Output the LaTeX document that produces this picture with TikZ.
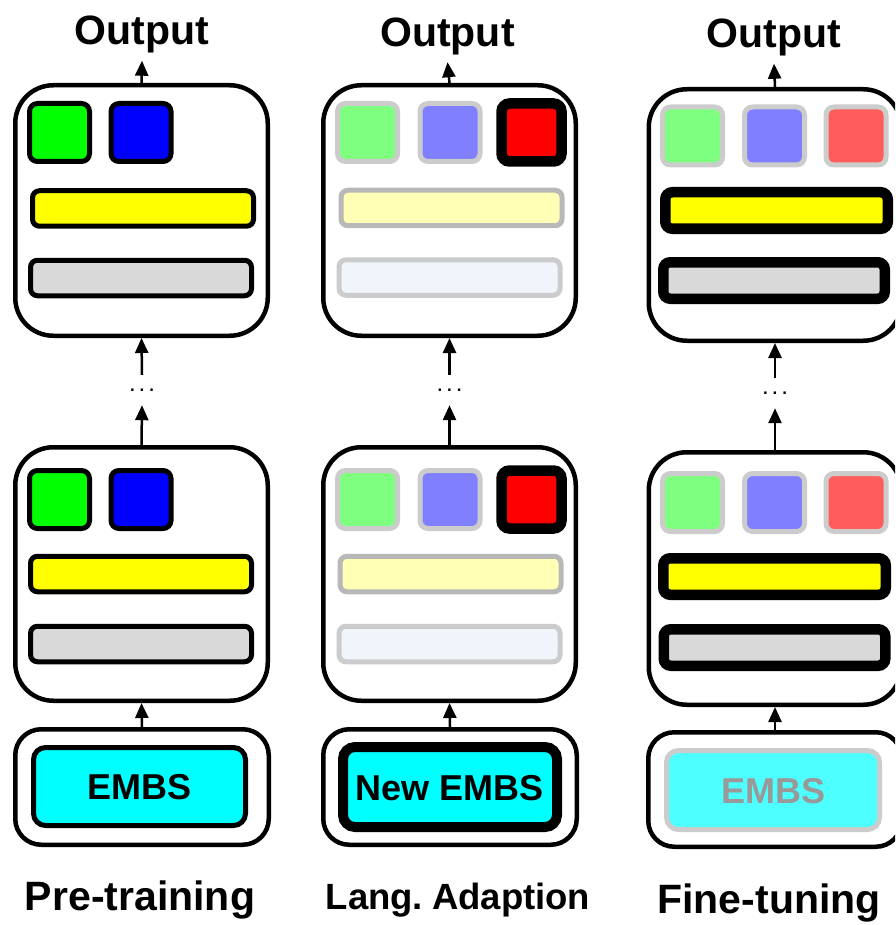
\documentclass[tikz,border=0pt]{standalone}
\usepackage{fontspec}
\setmainfont{Liberation Sans}
\usetikzlibrary{arrows.meta}

\definecolor{cgreen}{HTML}{00FF00}
\definecolor{cblue}{HTML}{0000FF}
\definecolor{cred}{HTML}{FF0000}
\definecolor{cyellow}{HTML}{FFFF00}
\definecolor{cgray}{HTML}{D9D9D9}
\definecolor{ccyan}{HTML}{00FFFF}
\definecolor{fgreen}{HTML}{7FFF7F}
\definecolor{fblue}{HTML}{7F7FFF}
\definecolor{fred}{HTML}{FF5C5C}
\definecolor{fyellow}{HTML}{FFFFB5}
\definecolor{fgray}{HTML}{F0F5FC}
\definecolor{fcyan}{HTML}{4DFFFF}
\definecolor{fline}{HTML}{CCCCCC}
\definecolor{flinedark}{HTML}{B8B8B8}
\definecolor{ftext}{HTML}{999999}

\newcommand{\vdotsrow}{.\kern3pt.\kern3pt.}

\tikzset{
  layer/.style={draw, line width=4.5pt, rounded corners=38pt, fill=white, inner sep=0pt,
    minimum width=252.5pt},
  embbox/.style={draw, line width=4.5pt, rounded corners=26pt, fill=white, inner sep=0pt,
    minimum width=253.5pt, minimum height=115.5pt},
  embs/.style={draw, line width=5pt, rounded corners=12pt, fill=ccyan, inner sep=0pt,
    minimum width=212pt, minimum height=78pt, font=\bfseries\fontsize{36}{36}\selectfont,
    text height=26pt, text depth=0pt},
  sq/.style={draw, line width=5pt, rounded corners=8pt, inner sep=0pt,
    minimum width=60pt, minimum height=58pt},
  sqthick/.style={sq, line width=10.5pt},
  bar/.style={draw, line width=5pt, rounded corners=7pt, inner sep=0pt,
    minimum width=221pt, minimum height=35.5pt},
  barthick/.style={bar, line width=10.5pt},
  dim/.style={draw=fline},
  dots/.style={inner sep=0pt, minimum height=30pt, font=\fontsize{24}{24}\selectfont},
  outlabel/.style={anchor=base, inner xsep=0pt, inner ysep=7pt,
    font=\bfseries\fontsize{41}{41}\selectfont},
  caption/.style={anchor=base, inner sep=0pt},
  up/.style={-{Triangle[length=15pt,width=13pt]}, line width=2.5pt},
}

\begin{document}
\begin{tikzpicture}[x=1pt, y=-1pt]
\useasboundingbox (0,0) rectangle (895,925);
\clip (0,0) rectangle (895,925);

% ---------------- Pre-training ----------------
\node[layer, minimum height=250.5pt] (pt-top) at (141.5,210.5) {};
\node[sq, fill=cgreen] (pt-top-g) at (59.5,132.5) {};
\node[sq, fill=cblue]  (pt-top-b) at (141,132.5) {};
\node[bar, fill=cyellow] (pt-top-y) at (143,208.5) {};
\node[bar, fill=cgray]   (pt-top-r) at (141,278) {};

\node[layer, minimum height=253.5pt] (pt-bot) at (141.5,574) {};
\node[sq, fill=cgreen] (pt-bot-g) at (59.5,499.5) {};
\node[sq, fill=cblue]  (pt-bot-b) at (141,499.5) {};
\node[bar, fill=cyellow] (pt-bot-y) at (141,574) {};
\node[bar, fill=cgray]   (pt-bot-r) at (141,644) {};

\node[embbox] (pt-emb) at (142,787) {};
\node[embs] (pt-embs) at (139.5,786.5) {EMBS};

\node[dots] (pt-dots) at (142,390) {\vdotsrow};
\node[outlabel] (pt-out) at (142,45) {Output};
\node[caption, font=\bfseries\fontsize{41}{41}\selectfont] (pt-cap) at (140,910) {Pre-training};

\draw[up] (pt-emb.north) -- (pt-bot.south);
\draw[up] (pt-bot.north) -- (pt-dots.south);
\draw[up] (pt-dots.north) -- (pt-top.south);
\draw[up] (pt-top.north) -- (pt-out.south);

% ---------------- Lang. Adaption ----------------
\node[layer, minimum height=250.5pt] (la-top) at (449.5,210.5) {};
\node[sq, dim, fill=fgreen] (la-top-g) at (367.5,132.5) {};
\node[sq, dim, fill=fblue]  (la-top-b) at (450,132.5) {};
\node[sqthick, fill=cred]   (la-top-x) at (531.5,132.5) {};
\node[bar, draw=flinedark, fill=fyellow] (la-top-y) at (451.5,208) {};
\node[bar, dim, fill=fgray] (la-top-r) at (449.5,277.5) {};

\node[layer, minimum height=253.5pt] (la-bot) at (449.5,574) {};
\node[sq, dim, fill=fgreen] (la-bot-g) at (367.5,499.5) {};
\node[sq, dim, fill=fblue]  (la-bot-b) at (450,499.5) {};
\node[sqthick, fill=cred]   (la-bot-x) at (531.5,499.5) {};
\node[bar, draw=flinedark, fill=fyellow] (la-bot-y) at (450.5,574) {};
\node[bar, dim, fill=fgray] (la-bot-r) at (449.5,644) {};

\node[embbox] (la-emb) at (450,787) {};
\node[embs, line width=10pt, minimum width=214pt, minimum height=80pt] (la-embs) at (450,787) {New EMBS};

\node[dots] (la-dots) at (449.5,390) {\vdotsrow};
\node[outlabel] (la-out) at (447.5,46.5) {Output};
\node[caption, font=\bfseries\fontsize{36.5}{36.5}\selectfont] (la-cap) at (458,909) {Lang.\hspace{9pt}Adaption};

\draw[up] (la-emb.north) -- (la-bot.south);
\draw[up] (la-bot.north) -- (la-dots.south);
\draw[up] (la-dots.north) -- (la-top.south);
\draw[up] (la-top.north) -- (la-out.south);

% ---------------- Fine-tuning ----------------
\node[layer, minimum height=251.5pt] (ft-top) at (775,215) {};
\node[sq, dim, fill=fgreen] (ft-top-g) at (692.5,136) {};
\node[sq, dim, fill=fblue]  (ft-top-b) at (774.5,136) {};
\node[sq, dim, fill=fred]   (ft-top-x) at (856,136) {};
\node[barthick, fill=cyellow, minimum width=222.5pt, minimum height=36.5pt] (ft-top-y) at (776.5,210.5) {};
\node[barthick, fill=cgray, minimum width=221.5pt, minimum height=36.5pt] (ft-top-r) at (774,280.5) {};

\node[layer, minimum height=252.5pt] (ft-bot) at (775,578.5) {};
\node[sq, dim, fill=fgreen] (ft-bot-g) at (692.5,502.5) {};
\node[sq, dim, fill=fblue]  (ft-bot-b) at (774.5,502.5) {};
\node[sq, dim, fill=fred]   (ft-bot-x) at (856,502.5) {};
\node[barthick, fill=cyellow, minimum width=222.5pt, minimum height=36.5pt] (ft-bot-y) at (774.5,576.5) {};
\node[barthick, fill=cgray, minimum width=221.5pt, minimum height=36.5pt] (ft-bot-r) at (774.5,647.5) {};

\node[embbox, minimum height=114.5pt] (ft-emb) at (775,789.5) {};
\node[embs, dim, fill=fcyan, text=ftext, minimum width=213pt, minimum height=79pt] (ft-embs) at (773,790) {EMBS};

\node[dots] (ft-dots) at (775,393) {\vdotsrow};
\node[outlabel] (ft-out) at (774,48) {Output};
\node[caption, font=\bfseries\fontsize{41}{41}\selectfont] (ft-cap) at (769,913) {Fine-tuning};

\draw[up] (ft-emb.north) -- (ft-bot.south);
\draw[up] (ft-bot.north) -- (ft-dots.south);
\draw[up] (ft-dots.north) -- (ft-top.south);
\draw[up] (ft-top.north) -- (ft-out.south);
\end{tikzpicture}
\end{document}
